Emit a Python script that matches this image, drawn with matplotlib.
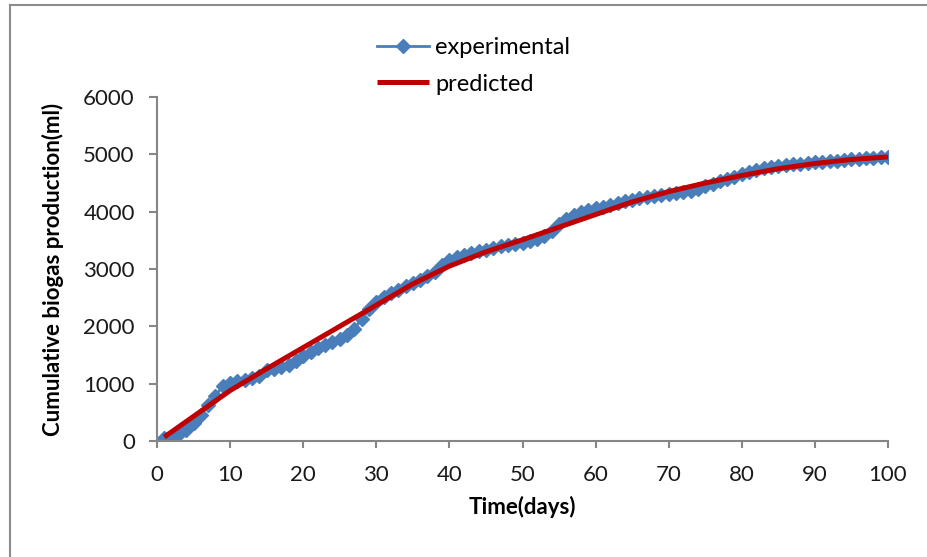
import numpy as np
import matplotlib
matplotlib.use("Agg")
import matplotlib.pyplot as plt
from matplotlib.lines import Line2D

plt.rcParams.update({
    "font.family": ["Lato", "DejaVu Sans"],
    "font.size": 16,
})

# =========================
# Data
# =========================
days = list(range(1, 101))
experimental = [
    60, 70, 120, 200, 320, 460, 620, 790, 960, 1010,
    1040, 1070, 1100, 1140, 1230, 1260, 1290, 1330, 1390, 1480,
    1560, 1630, 1680, 1730, 1780, 1850, 1960, 2130, 2300, 2430,
    2520, 2590, 2640, 2700, 2760, 2810, 2870, 2950, 3070, 3160,
    3210, 3250, 3280, 3310, 3340, 3370, 3400, 3420, 3440, 3460,
    3490, 3530, 3580, 3660, 3780, 3880, 3940, 3990, 4030, 4060,
    4090, 4120, 4150, 4180, 4210, 4230, 4250, 4270, 4290, 4300,
    4320, 4340, 4360, 4400, 4440, 4490, 4530, 4570, 4610, 4650,
    4690, 4730, 4760, 4780, 4800, 4820, 4830, 4840, 4850, 4860,
    4870, 4880, 4890, 4900, 4910, 4920, 4930, 4940, 4950, 4955,
]

pred_days = [1, 5, 10, 15, 20, 25, 30, 35, 40, 45, 50,
             55, 60, 65, 70, 75, 80, 85, 90, 95, 100]
predicted = [70, 430, 880, 1260, 1630, 2000, 2370, 2740, 3050, 3300, 3510,
             3730, 3950, 4170, 4350, 4500, 4630, 4750, 4840, 4910, 4955]

x_ticks = list(range(0, 101, 10))
y_ticks = list(range(0, 6001, 1000))

BLUE = "#4a7ebb"
RED = "#c00000"
GRAY = "#868686"

# =========================
# Figure
# =========================
fig = plt.figure(figsize=(9.27, 5.57), dpi=100)
ax = fig.add_axes([157 / 927, 1 - 441 / 557, (888 - 157) / 927, (441 - 97) / 557])

ax.plot(days, experimental, color=BLUE, lw=2.0, marker="D", ms=7,
        mec=BLUE, mfc=BLUE, label="experimental", zorder=2)
ax.plot(pred_days, predicted, color=RED, lw=3.6, label="predicted",
        solid_capstyle="butt", zorder=3)

ax.set_xlim(0, 100)
ax.set_ylim(0, 6000)
ax.set_xticks(x_ticks)
ax.set_yticks(y_ticks)

for side in ("top", "right"):
    ax.spines[side].set_visible(False)
for side in ("left", "bottom"):
    ax.spines[side].set_color(GRAY)
    ax.spines[side].set_linewidth(1.5)

ax.tick_params(axis="x", direction="out", length=5, width=1.5,
               color=GRAY, pad=12, labelsize=16, labelcolor="#1a1a1a")
ax.tick_params(axis="y", direction="out", length=6, width=1.5,
               color=GRAY, pad=10, labelsize=16, labelcolor="#1a1a1a")

ax.set_xlabel("Time(days)", fontweight="bold", fontsize=16, labelpad=8)
ax.set_ylabel("Cumulative biogas production(ml)", fontweight="bold",
              fontsize=16, labelpad=14)

leg = ax.legend(loc="upper left", bbox_to_anchor=(356 / 927, 1 - 16 / 557),
                bbox_transform=fig.transFigure, frameon=False, fontsize=17,
                handlelength=2.2, handletextpad=0.25, labelspacing=0.65)

# outer frame (left and top edges visible in the reference)
fig.add_artist(Line2D([10 / 927, 10 / 927], [0, 1 - 5 / 557],
                      transform=fig.transFigure, color="#8c8c8c", lw=1.5))
fig.add_artist(Line2D([10 / 927, 1], [1 - 5 / 557, 1 - 5 / 557],
                      transform=fig.transFigure, color="#8c8c8c", lw=1.5))

fig.savefig("out.png", dpi=100)
